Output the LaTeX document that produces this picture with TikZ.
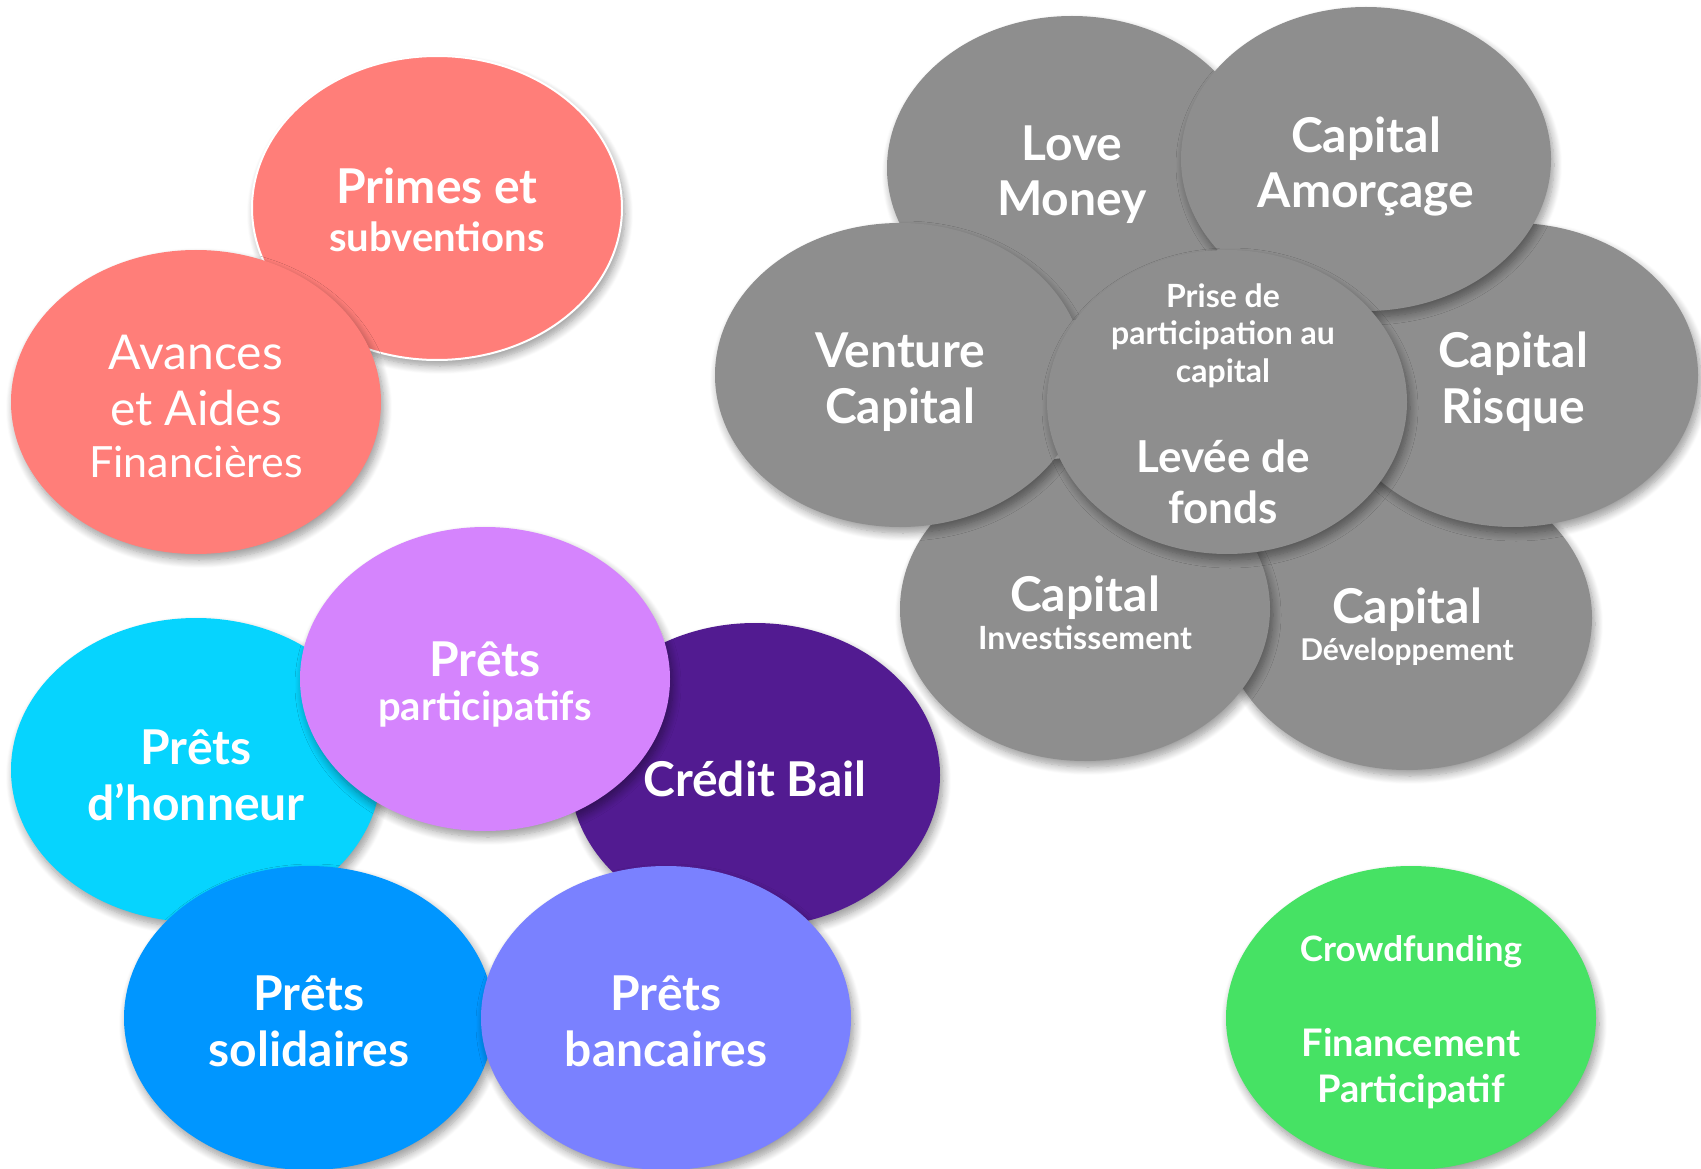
\documentclass[tikz,border=0pt]{standalone}
\usepackage{fontspec}
\setmainfont{Lato}
\usetikzlibrary{shapes.geometric,shadows.blur}
\definecolor{csalmon}{HTML}{FF7E79}
\definecolor{cgray}{HTML}{8E8E8E}
\definecolor{ccyan}{HTML}{06D4FE}
\definecolor{cviolet}{HTML}{D584FD}
\definecolor{cgrape}{HTML}{521B91}
\definecolor{cblue}{HTML}{0096FF}
\definecolor{corchid}{HTML}{7A81FF}
\definecolor{cgreen}{HTML}{46E264}
\newcommand{\fsz}[1]{\fontsize{#1}{#1}\selectfont}
\begin{document}
\begin{tikzpicture}[x=1pt,y=-1pt,
  blob/.style={ellipse, inner sep=0pt, minimum width=370pt, minimum height=304pt,
    blur shadow={shadow xshift=3pt, shadow yshift=-6pt, shadow blur radius=8pt, shadow blur steps=10, shadow opacity=40}},
  lbl/.style={text=white, anchor=base, inner sep=0pt, font=\bfseries\fsz{48}},
  lblr/.style={text=white, anchor=base, inner sep=0pt, font=\mdseries\fsz{48}}
]
\useasboundingbox (0,0) rectangle (1701,1169);
% red group
\node[blob, fill=csalmon, draw=white, line width=2pt] (pr) at (437,208) {};
\node[lbl] (pr1) at (437,204) {Primes et};
\node[lbl, font=\bfseries\fsz{40}] (pr2) at (437,252) {subventions};
\node[blob, fill=csalmon] (av) at (196,402) {};
\node[lblr] (av1) at (196,369) {Avances};
\node[lblr] (av2) at (196,425) {et Aides};
\node[lblr, font=\mdseries\fsz{43}] (av3) at (196,477) {Financières};
% gray group
\node[blob, fill=cgray] (cd) at (1407,618) {};
\node[blob, fill=cgray] (cr) at (1513,375) {};
\node[blob, fill=cgray] (lm) at (1072,168) {};
\node[blob, fill=cgray] (ca) at (1366,159) {};
\node[blob, fill=cgray] (ci) at (1085,609) {};
\node[blob, fill=cgray] (vc) at (900,375) {};
\node[blob, fill=cgray, minimum width=360pt] (lf) at (1227,402) {};
\node[lbl] (lm1) at (1072,161) {Love};
\node[lbl] (lm2) at (1072,216) {Money};
\node[lbl] (ca1) at (1366,153) {Capital};
\node[lbl] (ca2) at (1366,208) {Amorçage};
\node[lbl] (vc1) at (900,367) {Venture};
\node[lbl] (vc2) at (900,423) {Capital};
\node[lbl] (cr1) at (1513,367) {Capital};
\node[lbl] (cr2) at (1513,423) {Risque};
\node[lbl, font=\bfseries\fsz{32}] (lf1) at (1223,307) {Prise de};
\node[lbl, font=\bfseries\fsz{32}] (lf2) at (1223,344) {participation au};
\node[lbl, font=\bfseries\fsz{32}] (lf3) at (1223,382) {capital};
\node[lbl, font=\bfseries\fsz{44}] (lf4) at (1223,472) {Levée de};
\node[lbl, font=\bfseries\fsz{44}] (lf5) at (1223,523) {fonds};
\node[lbl] (ci1) at (1085,611) {Capital};
\node[lbl, font=\bfseries\fsz{32}] (ci2) at (1085,649) {Investissement};
\node[lbl] (cd1) at (1407,623) {Capital};
\node[lbl, font=\bfseries\fsz{30}] (cd2) at (1407,660) {Développement};
% loans group
\node[blob, fill=ccyan] (ph) at (196,770) {};
\node[blob, fill=cgrape] (cb) at (755,775) {};
\node[blob, fill=cviolet] (pp) at (485,679) {};
\node[blob, fill=cblue] (ps) at (309,1018) {};
\node[blob, fill=corchid] (pb) at (666,1018) {};
\node[lbl] (ph1) at (196,764) {Prêts};
\node[lbl] (ph2) at (196,820) {d’honneur};
\node[lbl] (pp1) at (485,676) {Prêts};
\node[lbl, font=\bfseries\fsz{40}] (pp2) at (485,720) {participatifs};
\node[lbl] (cb1) at (755,796) {Crédit Bail};
\node[lbl] (ps1) at (309,1010) {Prêts};
\node[lbl] (ps2) at (309,1066) {solidaires};
\node[lbl] (pb1) at (666,1010) {Prêts};
\node[lbl] (pb2) at (666,1066) {bancaires};
% crowdfunding
\node[blob, fill=cgreen] (cf) at (1411,1018) {};
\node[lbl, font=\bfseries\fsz{35}] (cf1) at (1411,961) {Crowdfunding};
\node[lbl, font=\bfseries\fsz{38}] (cf2) at (1411,1056) {Financement};
\node[lbl, font=\bfseries\fsz{38}] (cf3) at (1411,1102) {Participatif};
\end{tikzpicture}
\end{document}
